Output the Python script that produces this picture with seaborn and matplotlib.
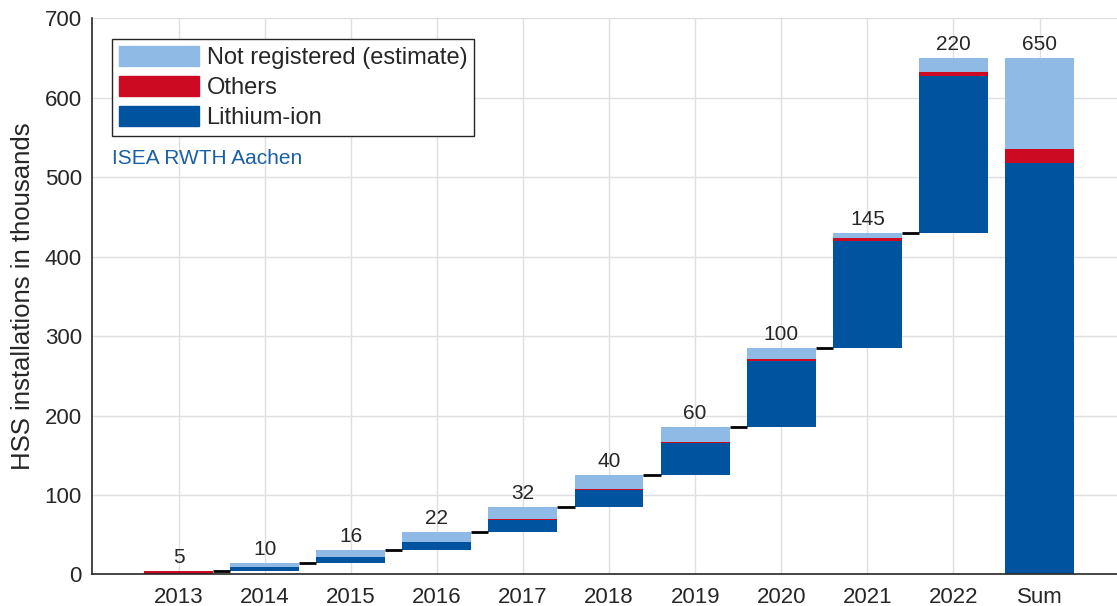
import numpy as np
import pandas as pd
import matplotlib.pyplot as plt
import seaborn as sns
from matplotlib.patches import Patch

# values in thousands
years = ["2013", "2014", "2015", "2016", "2017", "2018", "2019", "2020", "2021", "2022", "Sum"]
lithium = [1, 4.5, 6.5, 10, 16, 21, 40.5, 84, 135, 197.5, 518]
others = [3.5, 0.5, 0.5, 0.5, 0.5, 1, 1, 2, 3, 5, 18]
not_registered = [0.5, 5, 9, 11.5, 15.5, 18, 18.5, 14, 7, 17.5, 114]
totals = [5, 10, 16, 22, 32, 40, 60, 100, 145, 220, 650]

c_light = "#8fbae5"
c_red = "#cc0a22"
c_dark = "#00539f"

sns.set_style("whitegrid")
plt.rcParams["font.family"] = ["Liberation Sans", "DejaVu Sans"]

df = pd.DataFrame({"year": years, "li": lithium, "oth": others, "nr": not_registered, "total": totals})
# floating base of each year = cumulative total of previous years, Sum starts at 0
base = np.concatenate([[0], np.cumsum(totals[:-1])[:-1], [0]])
df["base"] = base

fig = plt.figure(figsize=(11.17, 6.06), dpi=100)
ax = fig.add_axes([0.082, 0.052, 0.918, 0.918])

sns.barplot(data=df, x="year", y="li", bottom=df["base"].to_numpy(), color=c_dark,
            width=0.8, saturation=1, ax=ax, edgecolor="none")
sns.barplot(data=df, x="year", y="oth", bottom=(df["base"] + df["li"]).to_numpy(), color=c_red,
            width=0.8, saturation=1, ax=ax, edgecolor="none")
sns.barplot(data=df, x="year", y="nr", bottom=(df["base"] + df["li"] + df["oth"]).to_numpy(),
            color=c_light, width=0.8, saturation=1, ax=ax, edgecolor="none")

# connectors between year bars
tops = df["base"] + df["total"]
for i in range(len(years) - 2):
    ax.plot([i + 0.4, i + 0.6], [tops[i], tops[i]], color="black", lw=2, solid_capstyle="butt")

for i, t in enumerate(totals):
    ax.text(i, tops[i] + 5, str(t), ha="center", va="bottom", fontsize=15)

ax.set_xlim(-1.01, 10.9)
ax.set_ylim(0, 700)
ax.set_yticks(range(0, 701, 100))
ax.set_xlabel("")
ax.set_ylabel("HSS installations in thousands", fontsize=18.5, labelpad=7)
ax.tick_params(axis="both", labelsize=16, direction="in", length=6, color="#262626", width=1.2,
               labelcolor="#262626")
ax.tick_params(axis="x", pad=9)
ax.tick_params(axis="y", pad=7)
ax.grid(True, color="#dfdfdf", lw=1)
ax.set_axisbelow(True)
for s in ["left", "bottom"]:
    ax.spines[s].set_color("#262626")
    ax.spines[s].set_linewidth(1.2)
for s in ["top", "right"]:
    ax.spines[s].set_visible(False)

handles = [Patch(color=c_light), Patch(color=c_red), Patch(color=c_dark)]
leg = ax.legend(handles, ["Not registered (estimate)", "Others", "Lithium-ion"],
                loc="upper left", bbox_to_anchor=(0.02, 0.962), fontsize=17,
                handlelength=3.4, handleheight=0.9, handletextpad=0.3, labelspacing=0.3,
                fancybox=False, framealpha=1, borderpad=0.3, borderaxespad=0)
leg.get_frame().set_edgecolor("#262626")
leg.get_frame().set_linewidth(1)

ax.text(0.02, 0.737, "ISEA RWTH Aachen", transform=ax.transAxes, color="#1a5fa8", fontsize=15,
        va="baseline")

fig.savefig("out.png", dpi=100)
